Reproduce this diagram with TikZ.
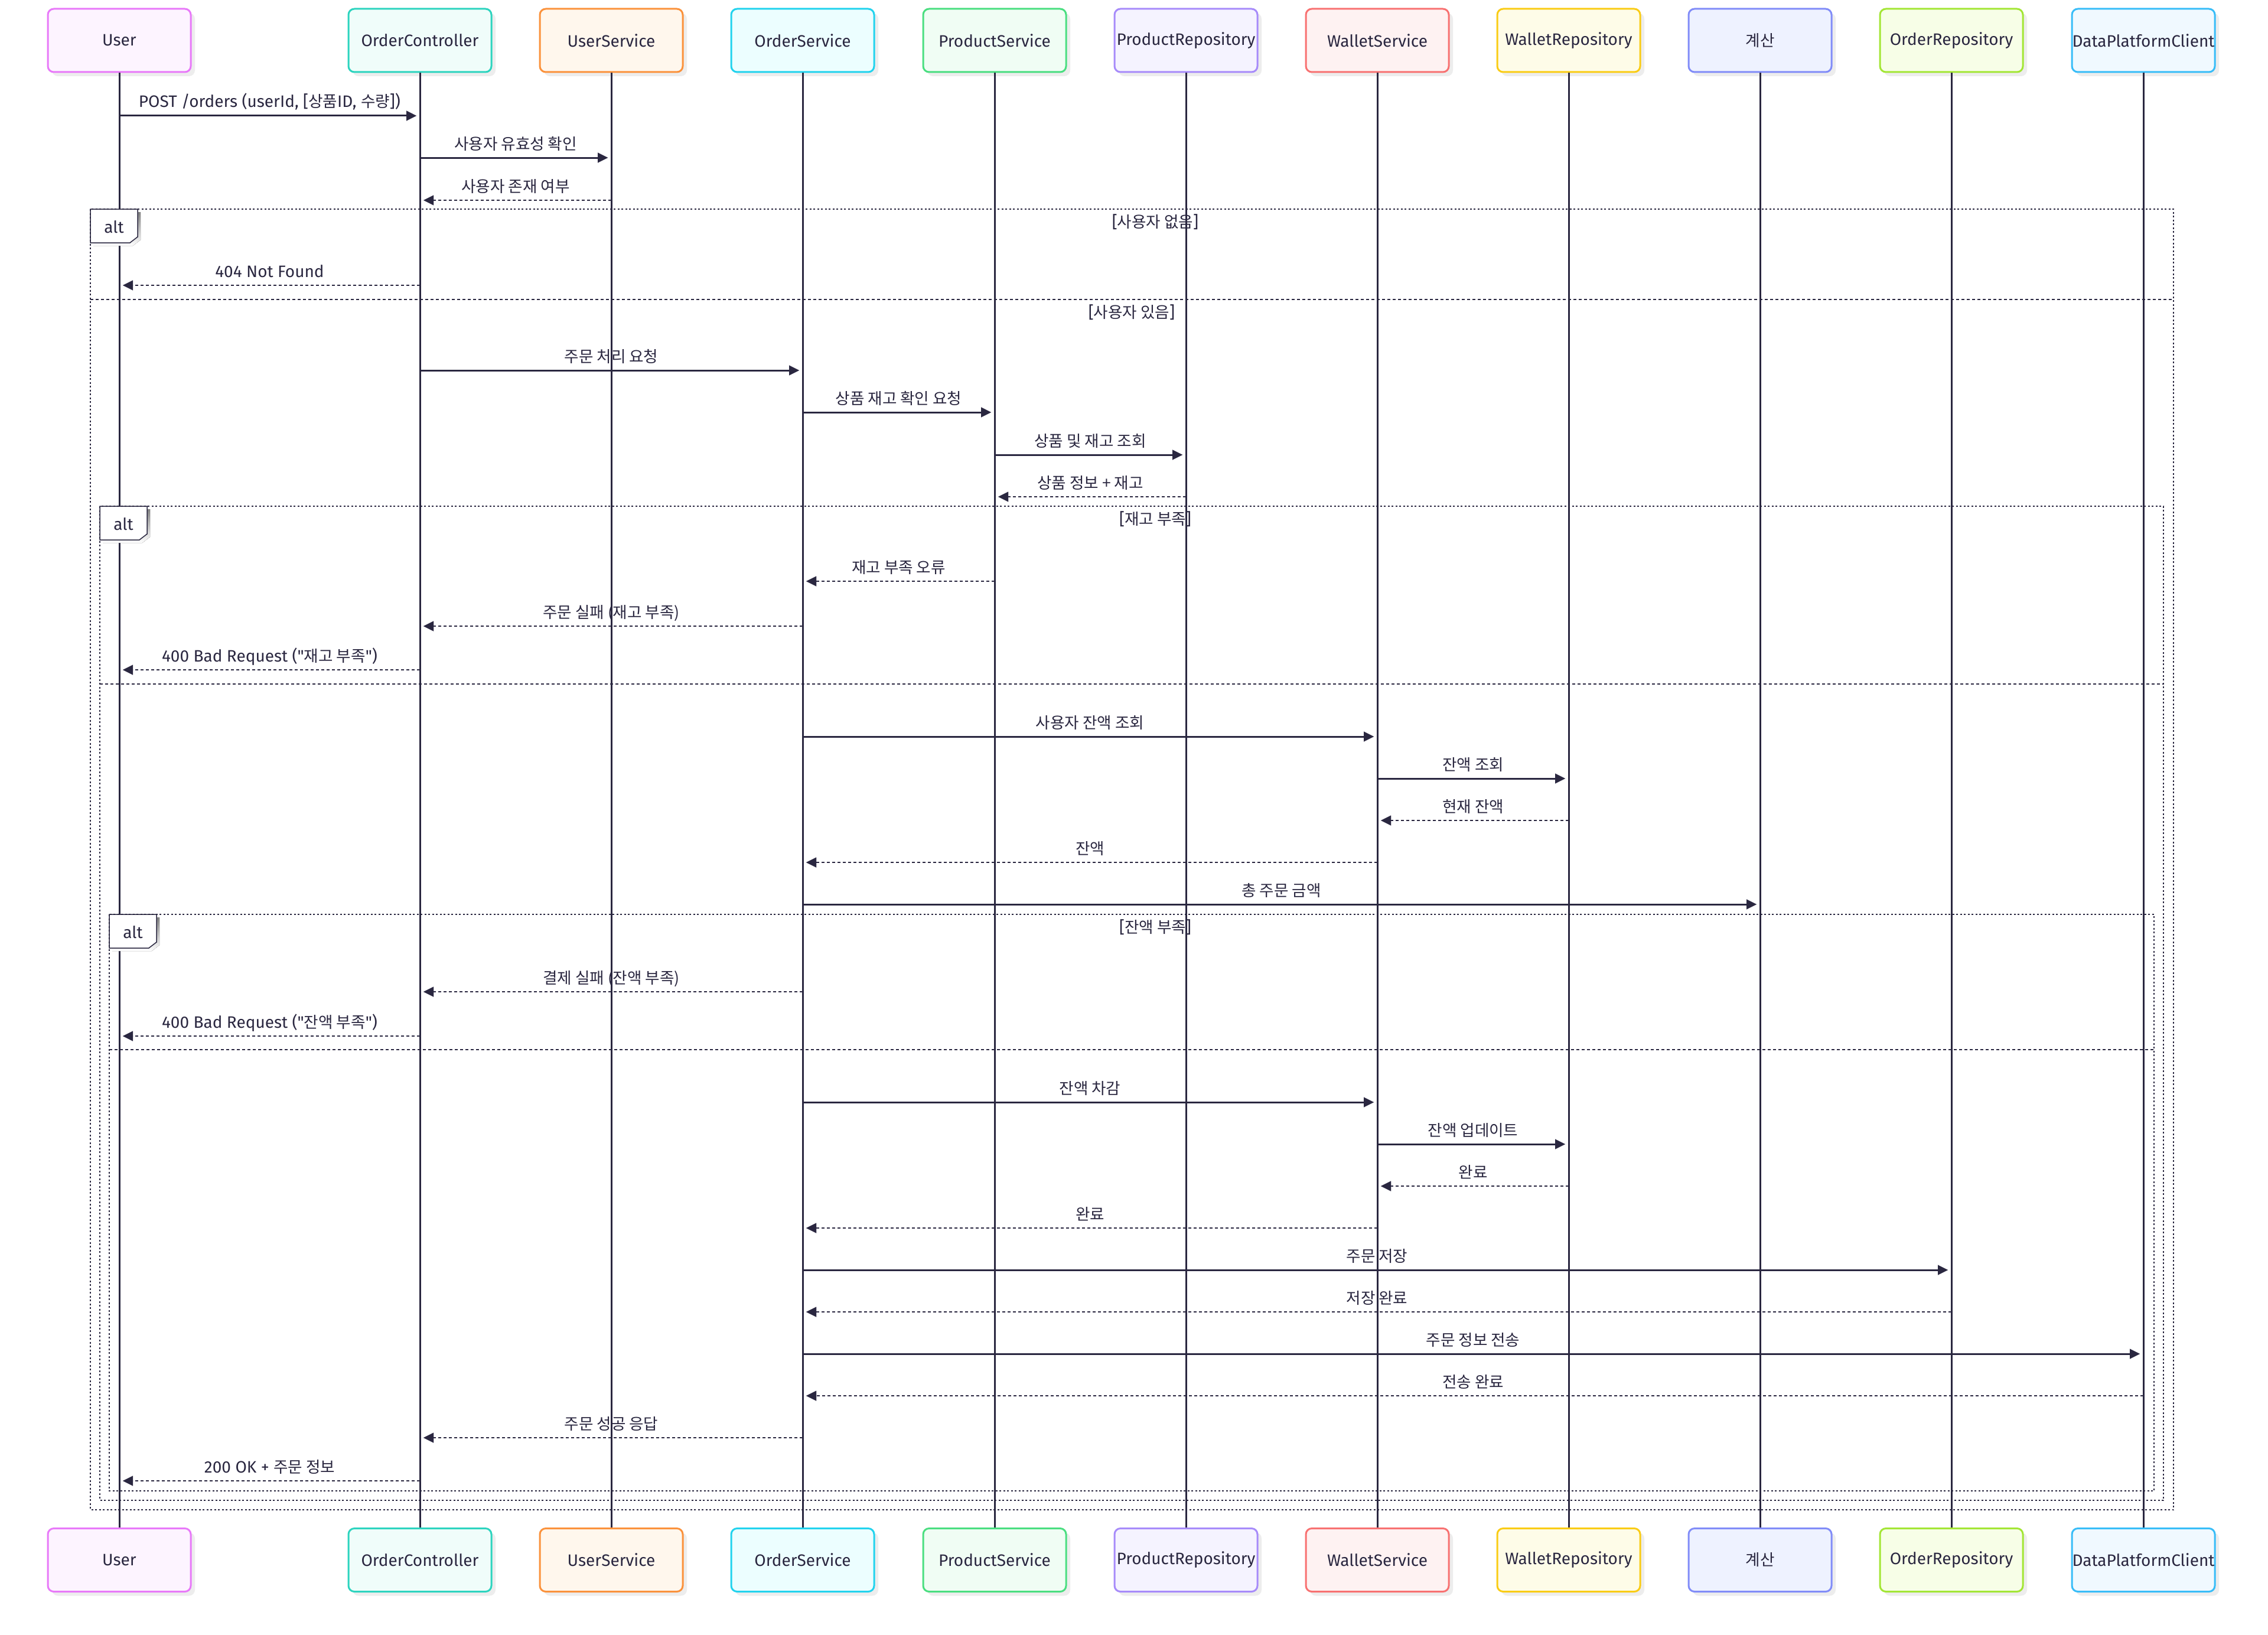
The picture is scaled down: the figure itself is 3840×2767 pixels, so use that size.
\documentclass[tikz,border=0pt]{standalone}
\usepackage{fontspec}
\setmainfont{Fira Sans}[Ligatures=TeXOff]
\newfontfamily\krfont{Noto Sans CJK KR}[Scale=0.95]
\newcommand{\K}[1]{{\krfont #1}}
\usetikzlibrary{arrows.meta,calc,shadows}

\definecolor{ink}{HTML}{2A2740}
\definecolor{shade}{HTML}{EDEDED}
\definecolor{dUser}{HTML}{E879F9}\definecolor{fUser}{HTML}{FDF4FF}
\definecolor{dOC}{HTML}{2DD4BF}\definecolor{fOC}{HTML}{F0FDFA}
\definecolor{dUS}{HTML}{FB923C}\definecolor{fUS}{HTML}{FFF7ED}
\definecolor{dOS}{HTML}{22D3EE}\definecolor{fOS}{HTML}{ECFEFF}
\definecolor{dPS}{HTML}{4ADE80}\definecolor{fPS}{HTML}{F0FDF4}
\definecolor{dPR}{HTML}{A78BFA}\definecolor{fPR}{HTML}{F5F3FF}
\definecolor{dWS}{HTML}{F87171}\definecolor{fWS}{HTML}{FEF2F2}
\definecolor{dWR}{HTML}{FACC15}\definecolor{fWR}{HTML}{FEFCE8}
\definecolor{dCA}{HTML}{818CF8}\definecolor{fCA}{HTML}{EEF2FF}
\definecolor{dOR}{HTML}{A3E635}\definecolor{fOR}{HTML}{F7FEE7}
\definecolor{dDP}{HTML}{38BDF8}\definecolor{fDP}{HTML}{F0F9FF}

\tikzset{
  pbox/.style 2 args={draw=#1, fill=#2, line width=3pt, rounded corners=10pt,
    minimum width=242pt, minimum height=107pt, inner sep=0pt, text=ink,
    drop shadow={shadow xshift=7pt, shadow yshift=-7pt, fill=shade, opacity=1}},
  life/.style={ink, line width=3pt},
  tipstyle/.style={-{Triangle[length=17pt,width=17pt,line width=0.01pt]}},
  callmsg/.style={ink, line width=3pt, tipstyle, shorten >=6pt},
  retmsg/.style={ink, line width=2.7pt, tipstyle, shorten >=6pt, dash pattern=on 5pt off 4pt},
  mlabel/.style={midway, anchor=base, yshift=14pt, inner sep=0pt, text=ink},
  frameline/.style={ink, line width=2.8pt, dash pattern=on 3pt off 3.5pt},
  sepline/.style={ink, line width=2.7pt, dash pattern=on 5pt off 4pt},
  altframe/.style={draw=ink, fill=white, line width=1.5pt},
  alttext/.style={anchor=base, inner sep=0pt, text=ink},
  condtext/.style={anchor=base, inner sep=0pt, text=ink},
}

% message: style, from, to, y, label
\newcommand{\sqmsg}[5]{\draw[#1] (#2 |- 0,#4) -- node[mlabel]{#5} (#3 |- 0,#4);}
% alt tag: name, left x, top y
\newcommand{\alttag}[3]{%
  \fill[shade] (#2+5,#3+5) -- ++(80,0) -- ++(0,47) -- ++(-13,10) -- ++(-67,0) -- cycle;
  \draw[altframe] (#2,#3) -- ++(80,0) -- ++(0,47) -- ++(-13,10) -- ++(-67,0) -- cycle;
  \node[alttext] (#1) at (#2+40,#3+40) {alt};}

\begin{document}
\begin{tikzpicture}[x=1pt, y=-1pt, font=\fontsize{28}{33}\selectfont]
\fill[white] (0,0) rectangle (3840,2767);
\useasboundingbox (0,0) rectangle (3840,2767);

% participants, top row and bottom row
\foreach \id/\xx/\dc/\fc/\lab in {
  u/202/dUser/fUser/User,
  oc/711/dOC/fOC/OrderController,
  us/1035/dUS/fUS/UserService,
  os/1359/dOS/fOS/OrderService,
  ps/1684/dPS/fPS/ProductService,
  pr/2008/dPR/fPR/ProductRepository,
  ws/2332/dWS/fWS/WalletService,
  wr/2656/dWR/fWR/WalletRepository,
  ca/2980/dCA/fCA/\K{계산},
  or/3304/dOR/fOR/OrderRepository,
  dp/3629/dDP/fDP/DataPlatformClient}{
  \node[pbox={\dc}{\fc}] (\id T) at (\xx,68.5) {\lab};
  \node[pbox={\dc}{\fc}] (\id B) at (\xx,2641) {\lab};
  \draw[life] (\id T.south) -- (\id B.north);
}

% opening calls
\sqmsg{callmsg}{uT}{ocT}{196}{POST /orders (userId, [\K{상품}ID, \K{수량}])}
\sqmsg{callmsg}{ocT}{usT}{267}{\K{사용자 유효성 확인}}
\sqmsg{retmsg}{usT}{ocT}{339}{\K{사용자 존재 여부}}

% outer alt: user lookup
\draw[frameline] (153,354) rectangle (3680,2556);
\alttag{altA}{153}{354}
\node[condtext] (condA1) at (1956,385) {[\K{사용자 없음}]};
\sqmsg{retmsg}{ocT}{uT}{483}{404 Not Found}
\draw[sepline] (153,507) -- (3680,507);
\node[condtext] (condA2) at (1916,538) {[\K{사용자 있음}]};

\sqmsg{callmsg}{ocT}{osT}{627}{\K{주문 처리 요청}}
\sqmsg{callmsg}{osT}{psT}{698}{\K{상품 재고 확인 요청}}
\sqmsg{callmsg}{psT}{prT}{770}{\K{상품 및 재고 조회}}
\sqmsg{retmsg}{prT}{psT}{841}{\K{상품 정보 + 재고}}

% second alt: stock check
\draw[frameline] (169,857) rectangle (3663,2540);
\alttag{altB}{169}{857}
\node[condtext] (condB1) at (1956,888) {[\K{재고 부족}]};
\sqmsg{retmsg}{psT}{osT}{984}{\K{재고 부족 오류}}
\sqmsg{retmsg}{osT}{ocT}{1060}{\K{주문 실패 (재고 부족)}}
\sqmsg{retmsg}{ocT}{uT}{1134}{400 Bad Request ("\K{재고 부족}")}
\draw[sepline] (169,1158) -- (3663,1158);

\sqmsg{callmsg}{osT}{wsT}{1247}{\K{사용자 잔액 조회}}
\sqmsg{callmsg}{wsT}{wrT}{1318}{\K{잔액 조회}}
\sqmsg{retmsg}{wrT}{wsT}{1389}{\K{현재 잔액}}
\sqmsg{retmsg}{wsT}{osT}{1460}{\K{잔액}}
\sqmsg{callmsg}{osT}{caT}{1531}{\K{총 주문 금액}}

% third alt: balance check
\draw[frameline] (185,1548) rectangle (3647,2524);
\alttag{altC}{185}{1548}
\node[condtext] (condC1) at (1956,1579) {[\K{잔액 부족}]};
\sqmsg{retmsg}{osT}{ocT}{1679}{\K{결제 실패 (잔액 부족)}}
\sqmsg{retmsg}{ocT}{uT}{1754}{400 Bad Request ("\K{잔액 부족}")}
\draw[sepline] (185,1777) -- (3647,1777);

\sqmsg{callmsg}{osT}{wsT}{1866}{\K{잔액 차감}}
\sqmsg{callmsg}{wsT}{wrT}{1937}{\K{잔액 업데이트}}
\sqmsg{retmsg}{wrT}{wsT}{2008}{\K{완료}}
\sqmsg{retmsg}{wsT}{osT}{2079}{\K{완료}}
\sqmsg{callmsg}{osT}{orT}{2150}{\K{주문 저장}}
\sqmsg{retmsg}{orT}{osT}{2221}{\K{저장 완료}}
\sqmsg{callmsg}{osT}{dpT}{2292}{\K{주문 정보 전송}}
\sqmsg{retmsg}{dpT}{osT}{2363}{\K{전송 완료}}
\sqmsg{retmsg}{osT}{ocT}{2434}{\K{주문 성공 응답}}
\sqmsg{retmsg}{ocT}{uT}{2507}{200 OK + \K{주문 정보}}
\end{tikzpicture}
\end{document}
